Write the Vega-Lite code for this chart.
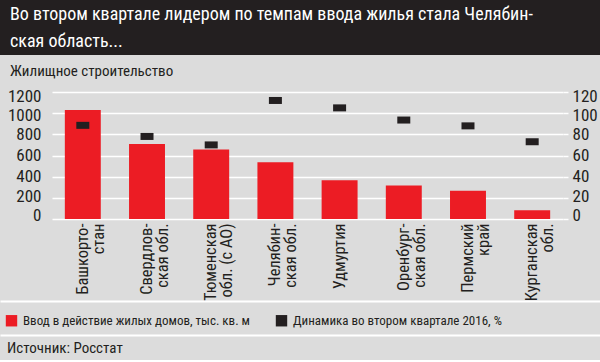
{
  "$schema": "https://vega.github.io/schema/vega-lite/v6.json",
  "background": "#dcdcdc",
  "padding": 0,
  "config": {
    "view": {"stroke": null},
    "font": "Liberation Sans Narrow, Roboto Condensed, Roboto, sans-serif"
  },
  "datasets": {
    "regions": [
      {"region": "Башкорто-\nстан", "housing": 1030, "growth": 88.5},
      {"region": "Свердлов-\nская обл.", "housing": 709, "growth": 78},
      {"region": "Тюменская\nобл. (с АО)", "housing": 656, "growth": 70},
      {"region": "Челябин-\nская обл.", "housing": 536, "growth": 112},
      {"region": "Удмуртия", "housing": 366, "growth": 105},
      {"region": "Оренбург-\nская обл.", "housing": 316, "growth": 93.5},
      {"region": "Пермский\nкрай", "housing": 268, "growth": 88},
      {"region": "Курганская\nобл.", "housing": 82, "growth": 73}
    ]
  },
  "spacing": 9,
  "vconcat": [
    {
      "width": 600,
      "height": 55,
      "view": {"fill": "#231f20", "stroke": null},
      "data": {"values": [
        {"n": 1, "t": "Во втором квартале лидером по темпам ввода жилья стала Челябин-"},
        {"n": 2, "t": "ская область..."}
      ]},
      "mark": {"type": "text", "align": "left", "baseline": "middle", "dx": 10, "dy": 1, "fontSize": 18, "color": "#ffffff"},
      "encoding": {
        "x": {"datum": "title", "type": "nominal", "scale": {"padding": 0, "align": 0}, "axis": null},
        "y": {"field": "n", "type": "ordinal", "axis": null},
        "text": {"field": "t"}
      }
    },
    {
      "spacing": 0,
      "vconcat": [
        {
          "spacing": 0,
          "hconcat": [
            {
              "width": 1,
              "height": 1,
              "data": {"values": [{"k": "spacer"}]},
              "mark": {"type": "text", "text": ""},
              "encoding": {}
            },
            {
              "width": 511,
              "height": 127,
              "title": {"text": "Жилищное строительство", "anchor": "start", "frame": "group", "fontSize": 15, "fontWeight": "normal", "color": "#231f20", "offset": 8, "dx": -42},
              "data": {"name": "regions"},
              "encoding": {
                "x": {
                  "field": "region", "type": "nominal", "sort": null,
                  "scale": {"paddingInner": 0.44, "paddingOuter": 0.2},
                  "axis": {
                    "title": null, "labelAngle": -90, "labelAlign": "right", "labelBaseline": "middle",
                    "labelFontSize": 16.5, "labelColor": "#231f20", "ticks": false, "domain": false,
                    "labelPadding": 4, "labelLineHeight": 16, "labelLimit": 0,
                    "labelExpr": "split(datum.value, '\\n')"
                  }
                }
              },
              "layer": [
                {
                  "mark": {"type": "bar"},
                  "encoding": {
                    "y": {
                      "field": "housing", "type": "quantitative",
                      "scale": {"domain": [0, 1200], "nice": false},
                      "axis": {
                        "orient": "left", "title": null, "values": [0, 200, 400, 600, 800, 1000, 1200], "format": "d",
                        "domain": false, "ticks": false, "grid": true, "gridColor": "#ffffff", "gridWidth": 1.5, "gridOpacity": 1,
                        "labelFontSize": 17, "labelPadding": 11, "labelColor": "#231f20", "labelBaseline": "middle",
                        "labelOverlap": false,
                        "labelOffset": {"condition": [
                          {"test": "datum.value == 1200", "value": 4},
                          {"test": "datum.value == 1000", "value": 2},
                          {"test": "datum.value == 200", "value": -1},
                          {"test": "datum.value == 0", "value": -4}
                        ], "value": 0},
                        "minExtent": 51
                      }
                    },
                    "color": {
                      "datum": "Ввод в действие  жилых домов, тыс. кв. м", "type": "nominal",
                      "scale": {
                        "domain": ["Ввод в действие  жилых домов, тыс. кв. м", "Динамика во втором квартале 2016, %"],
                        "range": ["#ec1c24", "#231f20"]
                      },
                      "legend": {
                        "title": null, "orient": "none", "legendX": 5, "legendY": 314, "direction": "horizontal",
                        "symbolType": "square", "symbolSize": 130, "symbolStrokeWidth": 0, "symbolOpacity": 1,
                        "labelFontSize": 13, "labelColor": "#231f20", "labelOffset": 5, "columnPadding": 22,
                        "padding": 0, "labelLimit": 400
                      }
                    }
                  }
                },
                {
                  "mark": {"type": "tick", "thickness": 7, "size": 13, "orient": "horizontal", "opacity": 1},
                  "encoding": {
                    "y": {
                      "field": "growth", "type": "quantitative",
                      "scale": {"domain": [0, 120], "nice": false},
                      "axis": {
                        "orient": "right", "title": null, "values": [0, 20, 40, 60, 80, 100, 120], "format": "d",
                        "domain": false, "ticks": true, "tickColor": "#ffffff", "tickSize": 5, "tickWidth": 1.5,
                        "grid": false, "labelFontSize": 17, "labelPadding": 4, "labelColor": "#231f20", "labelBaseline": "middle",
                        "labelOverlap": false,
                        "labelOffset": {"condition": [
                          {"test": "datum.value == 120", "value": 4},
                          {"test": "datum.value == 100", "value": 2},
                          {"test": "datum.value == 20", "value": -1},
                          {"test": "datum.value == 0", "value": -4}
                        ], "value": 0}
                      }
                    },
                    "color": {"datum": "Динамика во втором квартале 2016, %", "type": "nominal"}
                  }
                }
              ],
              "resolve": {"scale": {"y": "independent"}}
            }
          ]
        },
        {
          "width": 600,
          "height": 34,
          "data": {"values": [{"k": "legend"}]},
          "mark": {"type": "text", "text": ""},
          "encoding": {
            "x": {"field": "k", "type": "nominal",
              "axis": {"orient": "top", "domain": true, "domainColor": "#ffffff", "domainWidth": 2, "domainOpacity": 1, "labels": false, "ticks": false, "grid": false, "title": null}}
          }
        },
        {
          "width": 600,
          "height": 25,
          "data": {"values": [{"src": "Источник: Росстат"}]},
          "mark": {"type": "text", "align": "left", "baseline": "middle", "dx": 7, "fontSize": 15, "color": "#231f20"},
          "encoding": {
            "x": {"field": "src", "type": "nominal", "scale": {"padding": 0, "align": 0},
              "axis": {"orient": "top", "domain": true, "domainColor": "#ffffff", "domainWidth": 2, "domainOpacity": 1, "labels": false, "ticks": false, "grid": false, "title": null}},
            "text": {"field": "src"}
          }
        }
      ]
    }
  ]
}
